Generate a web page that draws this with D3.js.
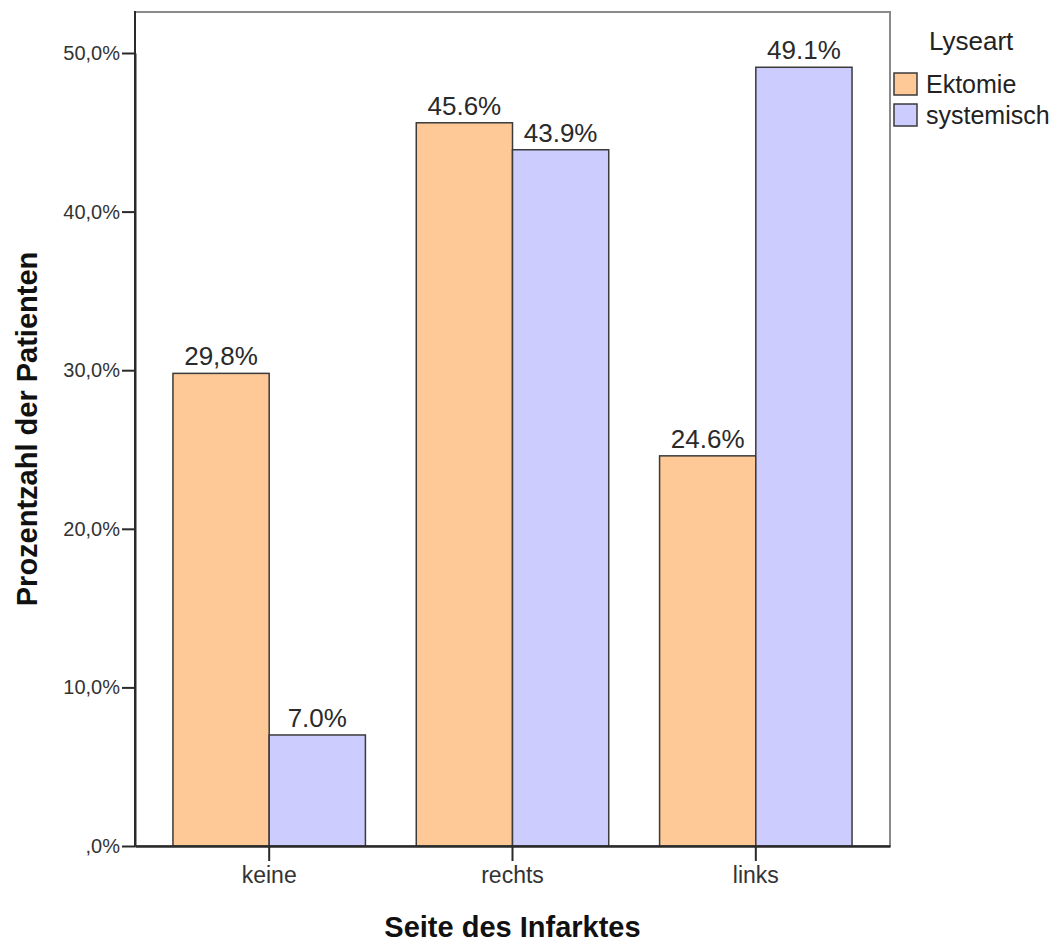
<!DOCTYPE html>
<html>
<head>
<meta charset="utf-8">
<script src="https://cdn.jsdelivr.net/npm/d3@7"></script>
<style>
  body { margin: 0; background: #fff; }
  svg { display: block; font-family: "Liberation Sans", Arial, sans-serif; }
</style>
</head>
<body>
<svg id="chart" width="1056" height="943"></svg>
<script>
const categories = ["keine", "rechts", "links"];
const seriesNames = ["Ektomie", "systemisch"];
const ektomieValues = [29.8, 45.6, 24.6];
const systemischValues = [7.0, 43.9, 49.1];
const ektomieLabels = ["29,8%", "45.6%", "24.6%"];
const systemischLabels = ["7.0%", "43.9%", "49.1%"];
const yTicks = [0, 10, 20, 30, 40, 50];
const yTickLabels = [",0%", "10,0%", "20,0%", "30,0%", "40,0%", "50,0%"];
const colors = ["#ffc997", "#ccccff"];

(function () {
const svg = d3.select("#chart");
const pLeft = 135, pRight = 890, pTop = 12, pBottom = 846;

const x0 = d3.scaleBand().domain(categories).range([pLeft, pRight])
  .paddingInner(0.209).paddingOuter(0.156);
const x1 = d3.scaleBand().domain(seriesNames).range([0, x0.bandwidth()]);
const y = d3.scaleLinear().domain([0, 50]).range([pBottom, 53]);

const rows = categories.map((c, i) => ({
  cat: c,
  vals: [
    {s: seriesNames[0], v: ektomieValues[i], lab: ektomieLabels[i]},
    {s: seriesNames[1], v: systemischValues[i], lab: systemischLabels[i]}
  ]
}));

// frame (top/right)
svg.append("rect").attr("x", pLeft).attr("y", pTop)
  .attr("width", pRight - pLeft).attr("height", pBottom - pTop)
  .attr("fill", "none").attr("stroke", "#8a8a8a").attr("stroke-width", 2);

// bars
const g = svg.append("g");
const groups = g.selectAll("g.grp").data(rows).join("g")
  .attr("transform", d => `translate(${x0(d.cat)},0)`);
groups.selectAll("rect").data(d => d.vals).join("rect")
  .attr("x", d => x1(d.s))
  .attr("y", d => y(d.v))
  .attr("width", x1.bandwidth())
  .attr("height", d => y(0) - y(d.v))
  .attr("fill", (d, i) => colors[i])
  .attr("stroke", "#3a3a3a").attr("stroke-width", 1.5);
groups.selectAll("text").data(d => d.vals).join("text")
  .attr("x", d => x1(d.s) + x1.bandwidth() / 2)
  .attr("y", d => y(d.v) - 8)
  .attr("text-anchor", "middle")
  .attr("font-size", 26).attr("fill", "#2a2a2a")
  .text(d => d.lab);

// left axis line full height
svg.append("line").attr("x1", pLeft).attr("x2", pLeft)
  .attr("y1", pTop - 1).attr("y2", pBottom)
  .attr("stroke", "#2a2a2a").attr("stroke-width", 2);

// y axis
const yAxis = d3.axisLeft(y).tickValues(yTicks)
  .tickFormat((d, i) => yTickLabels[i]).tickSize(13).tickSizeOuter(0).tickPadding(2);
const ya = svg.append("g").attr("transform", `translate(${pLeft},0)`).call(yAxis);
ya.select(".domain").attr("stroke", "#2a2a2a").attr("stroke-width", 2);
ya.selectAll(".tick line").attr("stroke", "#2a2a2a").attr("stroke-width", 2);
ya.selectAll(".tick text").attr("font-size", 20).attr("fill", "#333")
  .attr("font-family", "'Liberation Sans', Arial, sans-serif");

// x axis
const xAxis = d3.axisBottom(x0).tickSize(15).tickSizeOuter(0).tickPadding(6);
const xa = svg.append("g").attr("transform", `translate(0,${pBottom})`).call(xAxis);
xa.select(".domain").attr("stroke", "#2a2a2a").attr("stroke-width", 2.5);
xa.selectAll(".tick line").attr("stroke", "#2a2a2a").attr("stroke-width", 2);
xa.selectAll(".tick text").attr("font-size", 23).attr("fill", "#333")
  .attr("font-family", "'Liberation Sans', Arial, sans-serif");

// axis titles
svg.append("text").attr("x", (pLeft + pRight) / 2).attr("y", 937)
  .attr("text-anchor", "middle").attr("font-size", 29).attr("font-weight", "bold")
  .attr("fill", "#111").text("Seite des Infarktes");
svg.append("text")
  .attr("transform", `translate(37,${(pTop + pBottom) / 2}) rotate(-90)`)
  .attr("text-anchor", "middle").attr("font-size", 29).attr("font-weight", "bold")
  .attr("fill", "#111").text("Prozentzahl der Patienten");

// legend
svg.append("text").attr("x", 929).attr("y", 50).attr("font-size", 26)
  .attr("fill", "#222").text("Lyseart");
const leg = svg.append("g").selectAll("g").data(seriesNames).join("g")
  .attr("transform", (d, i) => `translate(894,${73 + i * 31})`);
leg.append("rect").attr("width", 23).attr("height", 22)
  .attr("fill", (d, i) => colors[i]).attr("stroke", "#3a3a3a").attr("stroke-width", 1.5);
leg.append("text").attr("x", 32).attr("y", 20).attr("font-size", 25)
  .attr("fill", "#222").text(d => d);
})();
</script>
</body>
</html>
